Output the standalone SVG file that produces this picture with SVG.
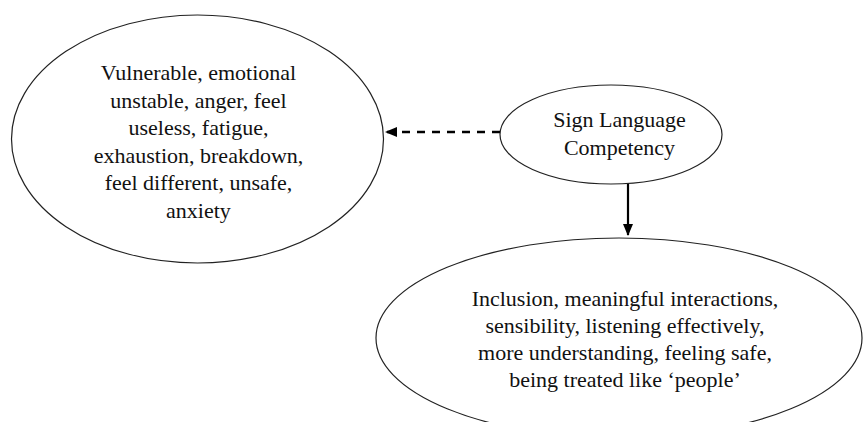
<svg xmlns="http://www.w3.org/2000/svg" width="863" height="422" viewBox="0 0 863 422">
<style>
.node ellipse{fill:#fff;stroke:#222;stroke-width:1.2}
.node text{font-family:"Liberation Serif","Times New Roman",serif;font-size:22px;fill:#111;text-anchor:middle}
.conn line{stroke:#000;stroke-width:2.2}
.conn line.dash{stroke-dasharray:8 7;stroke-width:2.6}
</style>
<defs>
<marker id="ah" viewBox="0 0 12 10" refX="11" refY="5" markerWidth="12" markerHeight="10" markerUnits="userSpaceOnUse" orient="auto">
<path d="M0,0 L12,5 L0,10 Z" fill="#000"/>
</marker>
</defs>
<rect width="863" height="422" fill="#fff"/>
<g id="node-effects-negative" class="node">
<ellipse cx="197.5" cy="139" rx="186" ry="124"/>
<text x="198.5" y="80">Vulnerable, emotional</text>
<text x="198.5" y="107.5">unstable, anger, feel</text>
<text x="198.5" y="135">useless, fatigue,</text>
<text x="198.5" y="162.5">exhaustion, breakdown,</text>
<text x="198.5" y="190">feel different, unsafe,</text>
<text x="198.5" y="217.5">anxiety</text>
</g>
<g id="node-sign-language" class="node">
<ellipse cx="611" cy="134.5" rx="111" ry="49.5"/>
<text x="619.5" y="127">Sign Language</text>
<text x="619.5" y="155">Competency</text>
</g>
<g id="node-effects-positive" class="node">
<ellipse cx="619" cy="338" rx="243" ry="100"/>
<text x="625" y="306">Inclusion, meaningful interactions,</text>
<text x="625" y="333">sensibility, listening effectively,</text>
<text x="625" y="360">more understanding, feeling safe,</text>
<text x="625" y="387">being treated like ‘people’</text>
</g>
<g id="connectors" class="conn">
<line class="dash" x1="500" y1="132" x2="386" y2="132" marker-end="url(#ah)"/>
<line x1="628" y1="184" x2="628" y2="235" marker-end="url(#ah)"/>
</g>
</svg>
